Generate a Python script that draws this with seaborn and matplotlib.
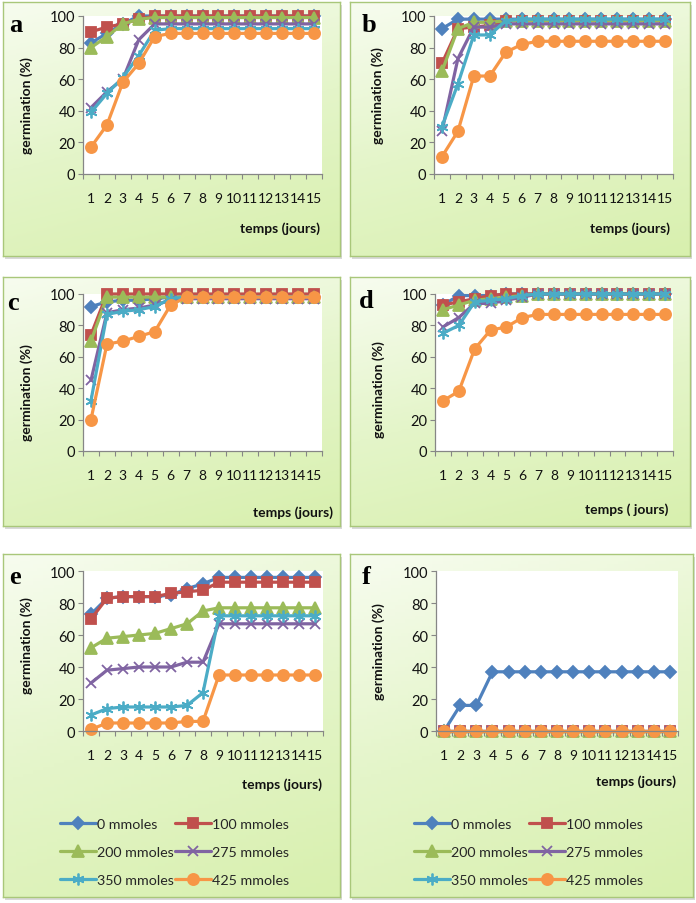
import matplotlib
matplotlib.use("Agg")
import matplotlib.pyplot as plt
import numpy as np
import pandas as pd
import seaborn as sns
from matplotlib.colors import LinearSegmentedColormap

sns.set_theme(style="white")
plt.rcParams['font.family'] = ['Lato', 'DejaVu Sans']

W, H = 696, 904

jours = list(range(1, 16))
concentrations = ['0 mmoles', '100 mmoles', '200 mmoles',
                  '275 mmoles', '350 mmoles', '425 mmoles']
couleurs = ['#4F81BD', '#C0504D', '#9BBB59', '#8064A2', '#4BACC6', '#F79646']
marqueurs = ['D', 's', '^', 'x', (6, 2, 0), 'o']
tailles = [6, 7.5, 8, 7.5, 8.5, 8]

# germination (%) par jour, une liste par concentration
a_0 = [83, 89, 95, 100, 100, 100, 100, 100, 100, 100, 100, 100, 100, 100, 100]
a_100 = [90, 93, 95, 98, 100, 100, 100, 100, 100, 100, 100, 100, 100, 100, 100]
a_200 = [80, 87, 95, 98, 99, 99, 99, 99, 99, 99, 99, 99, 99, 99, 99]
a_275 = [42, 52, 60, 85, 95, 95, 95, 95, 95, 95, 95, 95, 95, 95, 95]
a_350 = [39, 51, 61, 75, 91, 92, 92, 92, 92, 92, 92, 92, 92, 92, 92]
a_425 = [17, 31, 58, 70, 87, 89, 89, 89, 89, 89, 89, 89, 89, 89, 89]

b_0 = [92, 98, 98, 98, 98, 98, 98, 98, 98, 98, 98, 98, 98, 98, 98]
b_100 = [70, 92, 93, 94, 97, 97, 97, 97, 97, 97, 97, 97, 97, 97, 97]
b_200 = [65, 92, 96, 96, 97, 97, 97, 97, 97, 97, 97, 97, 97, 97, 97]
b_275 = [27, 73, 93, 93, 95, 95, 95, 95, 95, 95, 95, 95, 95, 95, 95]
b_350 = [30, 57, 88, 88, 97, 98, 98, 98, 98, 98, 98, 98, 98, 98, 98]
b_425 = [11, 27, 62, 62, 77, 82, 84, 84, 84, 84, 84, 84, 84, 84, 84]

c_0 = [92, 95, 96, 96, 97, 98, 98, 98, 98, 98, 98, 98, 98, 98, 98]
c_100 = [74, 100, 100, 100, 100, 100, 100, 100, 100, 100, 100, 100, 100, 100, 100]
c_200 = [70, 98, 98, 98, 98, 98, 98, 98, 98, 98, 98, 98, 98, 98, 98]
c_275 = [45, 88, 90, 91, 93, 96, 97, 97, 97, 97, 97, 97, 97, 97, 97]
c_350 = [32, 87, 89, 90, 92, 97, 98, 98, 98, 98, 98, 98, 98, 98, 98]
c_425 = [20, 68, 70, 73, 76, 93, 98, 98, 98, 98, 98, 98, 98, 98, 98]

d_0 = [93, 99, 99, 99, 100, 100, 100, 100, 100, 100, 100, 100, 100, 100, 100]
d_100 = [93, 95, 97, 99, 100, 100, 100, 100, 100, 100, 100, 100, 100, 100, 100]
d_200 = [90, 93, 96, 97, 98, 99, 100, 100, 100, 100, 100, 100, 100, 100, 100]
d_275 = [79, 85, 94, 94, 96, 98, 100, 100, 100, 100, 100, 100, 100, 100, 100]
d_350 = [75, 80, 95, 96, 97, 99, 100, 100, 100, 100, 100, 100, 100, 100, 100]
d_425 = [32, 38, 65, 77, 79, 85, 87, 87, 87, 87, 87, 87, 87, 87, 87]

e_0 = [73, 83, 84, 84, 84, 85, 89, 92, 96, 96, 96, 96, 96, 96, 96]
e_100 = [70, 83, 84, 84, 84, 86, 87, 88, 93, 93, 93, 93, 93, 93, 93]
e_200 = [52, 58, 59, 60, 61, 64, 67, 75, 77, 77, 77, 77, 77, 77, 77]
e_275 = [30, 38, 39, 40, 40, 40, 43, 43, 67, 67, 67, 67, 67, 67, 67]
e_350 = [10, 14, 15, 15, 15, 15, 16, 24, 72, 72, 72, 72, 72, 72, 72]
e_425 = [1, 5, 5, 5, 5, 5, 6, 6, 35, 35, 35, 35, 35, 35, 35]

f_0 = [0, 16, 16, 37, 37, 37, 37, 37, 37, 37, 37, 37, 37, 37, 37]
f_100 = [0, 0, 0, 0, 0, 0, 0, 0, 0, 0, 0, 0, 0, 0, 0]
f_200 = [0, 0, 0, 0, 0, 0, 0, 0, 0, 0, 0, 0, 0, 0, 0]
f_275 = [0, 0, 0, 0, 0, 0, 0, 0, 0, 0, 0, 0, 0, 0, 0]
f_350 = [0, 0, 0, 0, 0, 0, 0, 0, 0, 0, 0, 0, 0, 0, 0]
f_425 = [0, 0, 0, 0, 0, 0, 0, 0, 0, 0, 0, 0, 0, 0, 0]

panneaux = {
    'a': [a_0, a_100, a_200, a_275, a_350, a_425],
    'b': [b_0, b_100, b_200, b_275, b_350, b_425],
    'c': [c_0, c_100, c_200, c_275, c_350, c_425],
    'd': [d_0, d_100, d_200, d_275, d_350, d_425],
    'e': [e_0, e_100, e_200, e_275, e_350, e_425],
    'f': [f_0, f_100, f_200, f_275, f_350, f_425],
}
xlabels = {'a': 'temps (jours)', 'b': 'temps (jours)', 'c': 'temps (jours)',
           'd': 'temps ( jours)', 'e': 'temps (jours)', 'f': 'temps (jours)'}

# layout in pixels: box (x0, y0, x1, y1), plot area (x0, y0, x1, y1)
boxes = {
    'a': (3, 3, 340, 257), 'b': (350, 3, 690, 257),
    'c': (3, 278, 340, 527), 'd': (350, 278, 690, 527),
    'e': (3, 555, 340, 898), 'f': (350, 555, 693, 898),
}
areas = {
    'a': (83, 17, 322, 175), 'b': (434, 17, 673, 175),
    'c': (83, 295, 322, 452), 'd': (435, 295, 673, 452),
    'e': (83, 572, 323, 732), 'f': (436, 572, 678, 732),
}
letter_pos = {'a': (16, 25), 'b': (369, 25), 'c': (13, 303),
              'd': (366, 302), 'e': (15, 578), 'f': (366, 578)}
ylab_y = {'a': 0.44, 'b': 0.5, 'c': 0.38, 'd': 0.4, 'e': 0.54, 'f': 0.5}
xlab_pos = {'a': (320, 229), 'b': (670, 229), 'c': (333, 513),
            'd': (668, 510), 'e': (322, 785), 'f': (676, 782)}
legend_pos = {'e': (60, 819), 'f': (414, 819)}

fig = plt.figure(figsize=(W / 100, H / 100), dpi=100)
fig.patch.set_facecolor('white')


def px_axes(x0, y0, x1, y1, **kw):
    return fig.add_axes([x0 / W, 1 - y1 / H, (x1 - x0) / W, (y1 - y0) / H], **kw)


bg_cmap = LinearSegmentedColormap.from_list('vert', ['#F7FCEF', '#E4F5C9', '#D8F0AE'])

for key in panneaux:
    # panel background with light green gradient
    bx0, by0, bx1, by1 = boxes[key]
    # soft shadow
    sh = px_axes(bx0 + 2, by0 + 3, bx1 + 2, by1 + 3)
    sh.set_facecolor('#D9D9D9')
    sh.set_xticks([])
    sh.set_yticks([])
    for s in sh.spines.values():
        s.set_visible(False)
    bg = px_axes(bx0, by0, bx1, by1)
    yy, xx = np.mgrid[0:1:100j, 0:1:100j]
    bg.imshow(0.75 * yy + 0.25 * xx, cmap=bg_cmap, aspect='auto',
              extent=[0, 1, 1, 0], vmin=0, vmax=1)
    bg.set_xticks([])
    bg.set_yticks([])
    for s in bg.spines.values():
        s.set_color('#A9C77A')
        s.set_linewidth(1.0)

    ax = px_axes(*areas[key])
    ax.set_facecolor('white')

    rows = []
    for conc, vals in zip(concentrations, panneaux[key]):
        for j, v in zip(jours, vals):
            rows.append({'jour': j, 'germination': v, 'concentration': conc})
    df = pd.DataFrame(rows)

    # seaborn refuses mixing filled and line-art markers, so swap them in afterwards
    sns.lineplot(data=df, x='jour', y='germination', hue='concentration',
                 hue_order=concentrations, palette=couleurs, style='concentration',
                 style_order=concentrations,
                 markers=['D', 's', '^', 'o', 'o', 'o'], dashes=False,
                 linewidth=2.3, legend=False, ax=ax)
    for line, col, mk, ms in zip(ax.lines, couleurs, marqueurs, tailles):
        line.set_marker(mk)
        line.set_markeredgecolor(col)
        line.set_markerfacecolor(col)
        line.set_markersize(ms)
        line.set_markeredgewidth(1.3)
        line.set_clip_on(False)

    ax.set_xlim(0.5, 15.5)
    ax.set_ylim(0, 100)
    ax.set_yticks([0, 20, 40, 60, 80, 100])
    ax.set_xticks(np.arange(0.5, 16, 1))
    ax.set_xticklabels([])
    ax.set_xticks(jours, minor=True)
    ax.set_xticklabels([str(j) for j in jours], minor=True)
    ax.tick_params(axis='x', which='major', direction='out', length=3.5,
                   color='#868686', width=0.8, bottom=True)
    ax.tick_params(axis='x', which='minor', length=0, pad=13, labelsize=10,
                   labelcolor='#111111', bottom=True)
    ax.tick_params(axis='y', direction='out', length=3.5, color='#868686',
                   width=0.8, pad=2, labelsize=10.5, labelcolor='#111111', left=True)
    for side in ['top', 'right']:
        ax.spines[side].set_visible(False)
    for side in ['left', 'bottom']:
        ax.spines[side].set_color('#868686')
        ax.spines[side].set_linewidth(0.9)

    ax.set_ylabel('germination (%)', fontsize=10, fontweight='bold', color='#111111')
    ax.yaxis.set_label_coords(-0.21, ylab_y[key])
    ax.set_xlabel('')
    lx, ly = xlab_pos[key]
    fig.text(lx / W, 1 - ly / H, xlabels[key], ha='right', va='center',
             fontsize=10, fontweight='bold', color='#111111')

    tx, ty = letter_pos[key]
    fig.text(tx / W, 1 - ty / H, key, ha='center', va='center', fontsize=19,
             fontweight='bold', family=['Liberation Serif'], color='black')

    if key in legend_pos:
        handles = list(ax.lines)
        order = [0, 2, 4, 1, 3, 5]
        gx, gy = legend_pos[key]
        ax.legend([handles[i] for i in order], [concentrations[i] for i in order],
                  ncol=2, loc='upper left', bbox_to_anchor=(gx / W, 1 - gy / H),
                  bbox_transform=fig.transFigure,
                  frameon=False, fontsize=10.3, handlelength=2.5, handletextpad=0.1,
                  columnspacing=0.05, labelspacing=1.1, numpoints=1,
                  borderaxespad=0, borderpad=0)

fig.savefig('out.png', dpi=100, facecolor='white')
